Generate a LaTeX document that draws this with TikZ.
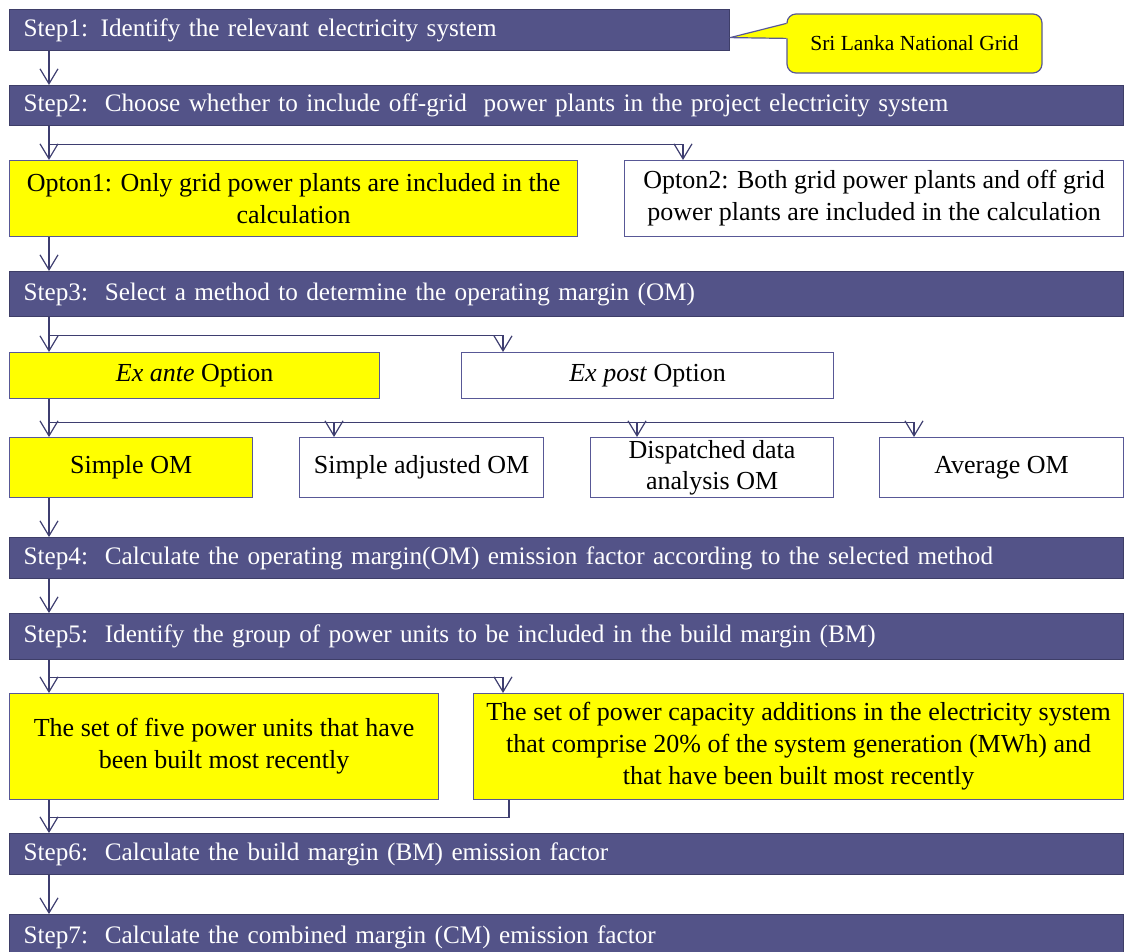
\documentclass[tikz,border=0pt]{standalone}
\usepackage{fontspec}
\setmainfont{Liberation Serif}
\usetikzlibrary{arrows.meta}
\definecolor{stepfill}{RGB}{83,83,136}
\definecolor{stepline}{RGB}{62,62,104}
\definecolor{optline}{RGB}{88,88,150}
\definecolor{hilite}{RGB}{255,255,0}
\definecolor{linkcol}{RGB}{62,62,112}
\tikzset{
  box/.style={draw=optline, line width=1.2pt, anchor=north west, inner sep=0pt,
    align=center, font=\fontsize{26}{32}\selectfont},
  stepbox/.style={box, draw=stepline, fill=stepfill, text=white,
    minimum width=1114pt, text width=1086pt, align=left, inner xsep=14pt,
    font=\fontsize{25.2}{30}\selectfont},
  pick/.style={box, fill=hilite},
  plain/.style={box, fill=white},
  link/.style={draw=linkcol, line width=1.2pt},
  arr/.style={link, -{Straight Barb[length=15pt,width=18pt]}},
}
\begin{document}
\begin{tikzpicture}[x=1pt, y=-1pt]
\useasboundingbox (0,0) rectangle (1128,952);

% main steps
\node[stepbox, minimum width=720pt, text width=692pt, minimum height=41pt] (s1) at (9,9)
  {Step1: Identify the relevant electricity system};
\node[stepbox, minimum height=40pt] (s2) at (9,85)
  {Step2:\ \ Choose whether to include off-grid\ \ power plants in the project electricity system};
\node[stepbox, minimum height=45pt] (s3) at (9,271)
  {Step3:\ \ Select a method to determine the operating margin (OM)};
\node[stepbox, minimum height=41pt] (s4) at (9,537)
  {Step4:\ \ Calculate the operating margin(OM) emission factor according to the selected method};
\node[stepbox, minimum height=46pt] (s5) at (9,613)
  {Step5:\ \ Identify the group of power units to be included in the build margin (BM)};
\node[stepbox, minimum height=41pt] (s6) at (9,833)
  {Step6:\ \ Calculate the build margin (BM) emission factor};
\node[stepbox, minimum height=46pt] (s7) at (9,914)
  {Step7:\ \ Calculate the combined margin (CM) emission factor};

% callout
\node[draw=optline, line width=1.2pt, fill=hilite, rounded corners=9pt,
  minimum width=255pt, minimum height=59pt, font=\fontsize{21.5}{26}\selectfont]
  (grid) at (914.5,43.5) {Sri Lanka National Grid};
\coordinate (tip) at ([yshift=-7.5pt]s1.east);
\fill[hilite] ([shift={(1.5pt,-10pt)}]grid.north west) -- (tip)
  -- ([shift={(1.5pt,-25pt)}]grid.north west) -- cycle;
\draw[draw=optline, line width=1.2pt, line join=round]
  ([shift={(0pt,-10pt)}]grid.north west) -- (tip) -- ([shift={(0pt,-25pt)}]grid.north west);

% options for the project electricity system
\node[pick, minimum width=568pt, minimum height=76pt] (o1) at (9,160)
  {Opton1: Only grid power plants are included in the\\calculation};
\node[plain, minimum width=499pt, minimum height=76pt] (o2) at (624,160)
  {Opton2: Both grid power plants and off grid\\power plants are included in the calculation};

% data vintage
\node[pick, minimum width=370pt, minimum height=46pt] (ea) at (9,352)
  {\textit{Ex ante} Option};
\node[plain, minimum width=372pt, minimum height=46pt] (ep) at (461,352)
  {\textit{Ex post} Option};

% OM methods
\node[pick, minimum width=243pt, minimum height=60pt] (m1) at (9,437) {Simple OM};
\node[plain, minimum width=244pt, minimum height=60pt] (m2) at (299,437) {Simple adjusted OM};
\node[plain, minimum width=243pt, minimum height=60pt] (m3) at (590,437)
  {Dispatched data\\[-1pt]analysis OM};
\node[plain, minimum width=244pt, minimum height=60pt] (m4) at (879,437) {Average OM};

% BM sample groups
\node[pick, minimum width=429pt, minimum height=106pt] (b1) at (9,693)
  {The set of five power units that have\\been built most recently};
\node[pick, minimum width=650pt, minimum height=106pt] (b2) at (473,693)
  {The set of power capacity additions in the electricity system\\that comprise 20\% of the system generation (MWh) and\\that have been built most recently};

% connectors
\draw[arr] ([xshift=40pt]s1.south west) -- ([xshift=40pt]s2.north west);

\draw[arr] ([xshift=40pt]s2.south west) -- ([xshift=40pt]o1.north west);
\draw[arr] ([xshift=40pt]s2.south west) -- ++(0,18) -| ([xshift=59pt]o2.north west);
\draw[arr] ([xshift=40pt]o1.south west) -- ([xshift=40pt]s3.north west);

\draw[arr] ([xshift=40pt]s3.south west) -- ([xshift=40pt]ea.north west);
\draw[arr] ([xshift=40pt]s3.south west) -- ++(0,18) -| ([xshift=42pt]ep.north west);

\draw[arr] ([xshift=40pt]ea.south west) -- ([xshift=40pt]m1.north west);
\draw[arr] ([xshift=40pt]ea.south west) -- ++(0,23) -| ([xshift=35pt]m2.north west);
\draw[arr] ([xshift=40pt]ea.south west) -- ++(0,23) -| ([xshift=47pt]m3.north west);
\draw[arr] ([xshift=40pt]ea.south west) -- ++(0,23) -| ([xshift=35pt]m4.north west);
\draw[arr] ([xshift=40pt]m1.south west) -- ([xshift=40pt]s4.north west);

\draw[arr] ([xshift=40pt]s4.south west) -- ([xshift=40pt]s5.north west);
\draw[arr] ([xshift=40pt]s5.south west) -- ([xshift=40pt]b1.north west);
\draw[arr] ([xshift=40pt]s5.south west) -- ++(0,17) -| ([xshift=30pt]b2.north west);

\draw[arr] ([xshift=40pt]b1.south west) -- ([xshift=40pt]s6.north west);
\draw[link] ([xshift=36pt]b2.south west) |- ([xshift=40pt,yshift=-17pt]b1.south west);
\draw[arr] ([xshift=40pt]s6.south west) -- ([xshift=40pt]s7.north west);
\end{tikzpicture}
\end{document}
